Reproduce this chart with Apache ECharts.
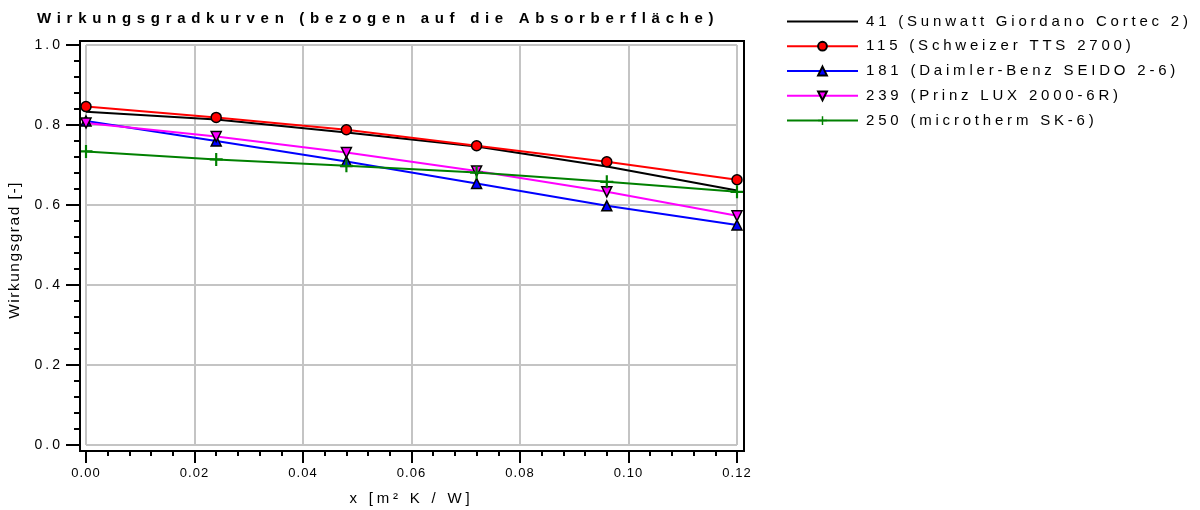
<!DOCTYPE html>
<html>
<head>
    <title>Wirkungsgradkurven</title>
    <meta http-equiv="content-type" content="text/html; charset=utf-8">
    <script src="https://cdn.jsdelivr.net/npm/echarts@6/dist/echarts.min.js"></script>
    <style type="text/css">
    html, body { margin:0; padding:0; background:#fff; }
    #main { width:1200px; height:510px; }
    </style>
</head>
<body>
    <div id="main"></div>
    <script type="text/javascript">
    // data
    var xValues = [0, 0.024, 0.048, 0.072, 0.096, 0.12];
    var names = [
        '41 (Sunwatt Giordano Cortec 2)',
        '115 (Schweizer TTS 2700)',
        '181 (Daimler-Benz SEIDO 2-6)',
        '239 (Prinz LUX 2000-6R)',
        '250 (microtherm SK-6)'
    ];
    var eta41  = [0.833, 0.814, 0.781, 0.746, 0.696, 0.636];
    var eta115 = [0.846, 0.819, 0.788, 0.748, 0.708, 0.663];
    var eta181 = [0.810, 0.760, 0.709, 0.654, 0.598, 0.550];
    var eta239 = [0.805, 0.771, 0.731, 0.685, 0.633, 0.573];
    var eta250 = [0.734, 0.714, 0.698, 0.681, 0.658, 0.633];
    var xTicks = ['0.00', '0.02', '0.04', '0.06', '0.08', '0.10', '0.12'];

    // the original plot draws its texts with wide letter spacing
    var proto = CanvasRenderingContext2D.prototype;
    var origFill = proto.fillText, origMeasure = proto.measureText;
    function spacing(ctx) {
        var f = ctx.font;
        if (/bold/.test(f)) return '5.7px';
        if (/15\.5px/.test(f)) return '1.5px';
        if (/15px/.test(f)) return '3.8px';
        if (/14px/.test(f)) return '3px';
        return '1px';
    }
    proto.fillText = function () { this.letterSpacing = spacing(this); return origFill.apply(this, arguments); };
    proto.measureText = function () { this.letterSpacing = spacing(this); return origMeasure.apply(this, arguments); };

    function pairs(ys) {
        var out = [];
        for (var i = 0; i < xValues.length; i++) out.push([xValues[i], ys[i]]);
        return out;
    }

    var plusPath = 'path://M5,0H7V5H12V7H7V12H5V7H0V5H5Z';
    var lineIcon = 'path://M0,0H71V2H0Z';
    var font = 'Liberation Sans';
    var gridLine = { show: true, lineStyle: { color: '#c4c4c4', width: 2 } };
    var tickStyle = { color: '#000', width: 2 };

    var myChart = echarts.init(document.getElementById('main'));
    myChart.setOption({
        animation: false,
        backgroundColor: '#fff',
        textStyle: { fontFamily: font },
        title: {
            text: 'Wirkungsgradkurven (bezogen auf die Absorberfläche)',
            left: 32,
            top: 4,
            textStyle: { fontSize: 15, fontWeight: 'bold', color: '#000', fontFamily: font }
        },
        legend: {
            orient: 'vertical',
            left: 781,
            top: 7,
            itemWidth: 71,
            itemHeight: 11,
            itemGap: 6,
            textStyle: { fontSize: 15, color: '#000', fontFamily: font, padding: [0, 0, 0, 3] },
            data: [{ name: names[0], icon: lineIcon }, names[1], names[2], names[3], names[4]]
        },
        // 0: data area, 1: carries the x ticks on the frame bottom, 2: carries the y ticks on the frame left
        grid: [
            { left: 86, top: 45, width: 651, height: 400, outerBoundsMode: 'none' },
            { left: 86, top: 45, width: 651, height: 406, outerBoundsMode: 'none' },
            { left: 80, top: 45, width: 657, height: 400, outerBoundsMode: 'none' }
        ],
        graphic: [{
            type: 'rect',
            shape: { x: 80, y: 41, width: 664, height: 410 },
            style: { fill: 'none', stroke: '#000', lineWidth: 2 },
            z: 10
        }],
        xAxis: [{
            gridIndex: 0, type: 'value', min: 0, max: 0.12, interval: 0.02,
            axisLine: { show: false }, axisTick: { show: false }, axisLabel: { show: false },
            splitLine: gridLine
        }, {
            gridIndex: 1, type: 'value', min: 0, max: 0.12, interval: 0.02,
            name: 'x [m² K / W]',
            nameLocation: 'middle',
            nameGap: 38,
            nameTextStyle: { fontSize: 15, color: '#000', fontFamily: font },
            axisLine: { show: false },
            axisTick: { show: true, length: 12, lineStyle: tickStyle },
            minorTick: { show: true, splitNumber: 5, length: 5, lineStyle: tickStyle },
            axisLabel: {
                margin: 15, fontSize: 13, color: '#000', fontFamily: font,
                formatter: function (v) { return xTicks[Math.round(v / 0.02)]; }
            },
            splitLine: { show: false }
        }, {
            gridIndex: 2, type: 'value', min: 0, max: 1, show: false
        }],
        yAxis: [{
            gridIndex: 0, type: 'value', min: 0, max: 1, interval: 0.2,
            axisLine: { show: false }, axisTick: { show: false }, axisLabel: { show: false },
            splitLine: gridLine
        }, {
            gridIndex: 1, type: 'value', min: 0, max: 1, show: false
        }, {
            gridIndex: 2, type: 'value', min: 0, max: 1, interval: 0.2,
            name: 'Wirkungsgrad [-]',
            nameLocation: 'middle',
            nameGap: 50,
            nameTextStyle: { fontSize: 15.5, color: '#000', fontFamily: font, padding: [0, 10, 0, 0] },
            axisLine: { show: false },
            axisTick: { show: true, length: 14, lineStyle: tickStyle },
            minorTick: { show: true, splitNumber: 5, length: 6, lineStyle: tickStyle },
            axisLabel: {
                margin: 17, fontSize: 14, color: '#000', fontFamily: font,
                formatter: function (v) { return v.toFixed(1); }
            },
            splitLine: { show: false }
        }],
        series: [{
            name: names[0],
            type: 'line',
            symbol: 'none',
            itemStyle: { color: '#000' },
            lineStyle: { color: '#000', width: 2 },
            data: pairs(eta41)
        }, {
            name: names[1],
            type: 'line',
            symbol: 'circle',
            symbolSize: 10,
            itemStyle: { color: '#ff0000', borderColor: '#000', borderWidth: 1.5 },
            lineStyle: { color: '#ff0000', width: 2 },
            data: pairs(eta115)
        }, {
            name: names[2],
            type: 'line',
            symbol: 'triangle',
            symbolSize: 10,
            itemStyle: { color: '#0000ff', borderColor: '#000', borderWidth: 1.5 },
            lineStyle: { color: '#0000ff', width: 2 },
            data: pairs(eta181)
        }, {
            name: names[3],
            type: 'line',
            symbol: 'triangle',
            symbolRotate: 180,
            symbolSize: 10,
            itemStyle: { color: '#ff00ff', borderColor: '#000', borderWidth: 1.5 },
            lineStyle: { color: '#ff00ff', width: 2 },
            data: pairs(eta239)
        }, {
            name: names[4],
            type: 'line',
            symbol: plusPath,
            symbolSize: 13,
            itemStyle: { color: '#008000' },
            lineStyle: { color: '#008000', width: 2 },
            data: pairs(eta250)
        }]
    });
    </script>
</body>
</html>
